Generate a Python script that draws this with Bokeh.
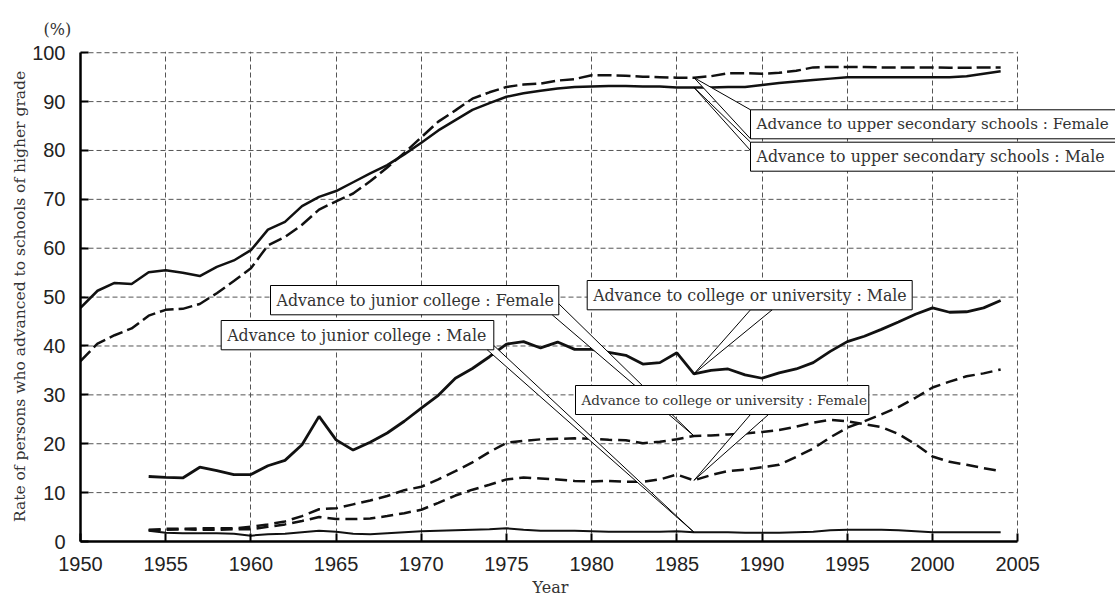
from bokeh.plotting import figure
from bokeh.models import Range1d, FixedTicker, Title
from bokeh.core.properties import value
from bokeh.embed import file_html
from bokeh.resources import INLINE

# ---------------- data ----------------
years_hs = list(range(1950, 2005))
hs_male = [47.8, 51.3, 52.9, 52.7, 55.1, 55.5, 55.0, 54.3, 56.2, 57.5,
           59.6, 63.8, 65.4, 68.6, 70.5, 71.7, 73.5, 75.3, 77.0, 79.2,
           81.6, 84.1, 86.2, 88.3, 89.7, 91.0, 91.7, 92.2, 92.7, 93.0,
           93.1, 93.2, 93.2, 93.1, 93.1, 92.9, 92.9, 92.9, 93.0, 93.0,
           93.4, 93.8, 94.1, 94.4, 94.7, 95.0, 95.0, 95.0, 95.0, 95.0,
           95.0, 95.0, 95.2, 95.7, 96.2]
hs_female = [36.9, 40.5, 42.2, 43.6, 46.2, 47.4, 47.6, 48.6, 50.8, 53.3,
             55.9, 60.6, 62.3, 64.8, 67.9, 69.6, 71.2, 73.7, 76.5, 79.5,
             82.7, 85.9, 88.2, 90.6, 91.9, 93.0, 93.5, 93.7, 94.3, 94.6,
             95.4, 95.4, 95.3, 95.1, 95.0, 94.9, 94.9, 95.2, 95.8, 95.8,
             95.7, 95.9, 96.3, 97.0, 97.1, 97.1, 97.1, 97.0, 97.0, 97.0,
             97.0, 96.9, 96.9, 97.0, 97.0]

years_col = list(range(1954, 2005))
univ_male = [13.3, 13.1, 13.0, 15.2, 14.5, 13.7,
             13.7, 15.5, 16.6, 19.8, 25.6, 20.8, 18.7, 20.3, 22.2, 24.6,
             27.3, 29.9, 33.4, 35.4, 37.8, 40.4, 40.9, 39.6, 40.8, 39.3,
             39.3, 38.7, 38.1, 36.3, 36.6, 38.6, 34.3, 35.0, 35.3, 34.1,
             33.4, 34.5, 35.3, 36.6, 38.9, 40.9, 42.0, 43.4, 44.9, 46.5,
             47.8, 46.9, 47.0, 47.8, 49.3]
univ_female = [2.4, 2.4, 2.5, 2.4, 2.4, 2.5,
               2.5, 3.0, 3.5, 4.2, 5.0, 4.6, 4.6, 4.7, 5.2, 5.8,
               6.5, 7.9, 9.4, 10.6, 11.6, 12.7, 13.1, 12.9, 12.7, 12.4,
               12.3, 12.4, 12.2, 12.2, 12.7, 13.7, 12.5, 13.6, 14.4, 14.7,
               15.2, 15.7, 17.3, 19.0, 21.3, 23.3, 24.6, 26.0, 27.5, 29.4,
               31.5, 32.7, 33.8, 34.4, 35.2]
jc_female = [2.3, 2.6, 2.6, 2.7, 2.7, 2.7,
             3.0, 3.5, 4.1, 5.2, 6.6, 6.8, 7.6, 8.4, 9.3, 10.5,
             11.2, 12.7, 14.4, 16.2, 18.3, 20.2, 20.6, 20.9, 21.0, 21.1,
             21.0, 20.8, 20.7, 20.1, 20.4, 20.9, 21.6, 21.7, 21.9, 22.1,
             22.4, 22.8, 23.5, 24.3, 24.9, 24.6, 24.0, 23.4, 22.0, 19.9,
             17.4, 16.3, 15.7, 15.0, 14.4]
jc_male = [2.2, 1.8, 1.7, 1.7, 1.7, 1.6,
           1.2, 1.5, 1.6, 1.9, 2.2, 2.0, 1.6, 1.5, 1.7, 1.9,
           2.1, 2.2, 2.3, 2.4, 2.5, 2.7, 2.4, 2.2, 2.2, 2.2,
           2.1, 2.0, 2.0, 2.0, 2.0, 2.1, 1.9, 1.9, 1.9, 1.8,
           1.8, 1.8, 1.9, 2.0, 2.3, 2.4, 2.4, 2.4, 2.3, 2.1,
           1.9, 1.9, 1.9, 1.9, 1.9]

x_ticks = list(range(1950, 2006, 5))
y_ticks = list(range(0, 101, 10))
callout_year = 1986

label_hs_f = "Advance to upper secondary schools : Female"
label_hs_m = "Advance to upper secondary schools : Male"
label_un_m = "Advance to college or university : Male"
label_un_f = "Advance to college or university : Female"
label_jc_f = "Advance to junior college : Female"
label_jc_m = "Advance to junior college : Male"
x_title = "Year"
y_title = "Rate of persons who advanced to schools of higher grade"
unit_text = "(%)"

# ---------------- layout ----------------
W, H = 1115, 602
LEFT, TOP, BOTTOM = 80, 51, 61
FRAME_W = W - LEFT
FRAME_H = H - TOP - BOTTOM
PX_YEAR = 17.04
X_END = 1950 + FRAME_W / PX_YEAR
Y_END = 100.25
PX_UNIT = FRAME_H / Y_END


def dx(px):  # page pixel -> year
    return 1950 + (px - LEFT) / PX_YEAR


def dy(py):  # page pixel -> percent
    return (TOP + FRAME_H - py) / PX_UNIT


p = figure(width=W, height=H, output_backend="svg", toolbar_location=None,
           x_range=Range1d(1950, X_END), y_range=Range1d(0, Y_END),
           min_border_left=LEFT, min_border_right=0,
           min_border_top=TOP, min_border_bottom=BOTTOM)
p.outline_line_color = None
p.background_fill_color = "white"
p.border_fill_color = "white"

# "(%)" above the y axis
p.title.text = unit_text
p.title.text_font = "DejaVu Serif"
p.title.text_font_size = "16px"
p.title.text_font_style = "normal"
p.title.text_color = "#333333"
p.title.align = "left"
p.title.offset = -37
p.title.standoff = 26

GRID_C = "#555555"
# grid
p.xgrid.ticker = FixedTicker(ticks=x_ticks)
p.xgrid.grid_line_color = GRID_C
p.xgrid.grid_line_dash = "5 3"
p.xgrid.grid_line_width = 1
p.ygrid.visible = False
hy = y_ticks[1:]
p.segment(x0=[x_ticks[0]] * len(hy), x1=[x_ticks[-1]] * len(hy), y0=hy, y1=hy,
          line_color=GRID_C, line_dash="5 3", line_width=1)

# axes
for ax in (p.xaxis, p.yaxis):
    ax.axis_line_color = "black"
    ax.axis_line_width = 2.5
    ax.major_tick_in = 8
    ax.major_tick_out = 0
    ax.minor_tick_in = 0
    ax.minor_tick_out = 0
    ax.major_tick_line_width = 2
    ax.major_tick_line_color = "black"
    ax.major_label_text_font = "Liberation Sans"
    ax.major_label_text_font_size = "20px"
    ax.major_label_text_color = "#222222"
    ax.major_label_standoff = 15
    ax.axis_label_text_font = "DejaVu Serif"
    ax.axis_label_text_font_size = "15.5px"
    ax.axis_label_text_font_style = "normal"
    ax.axis_label_text_color = "#333333"
p.xaxis.ticker = FixedTicker(ticks=x_ticks)
p.yaxis.ticker = FixedTicker(ticks=y_ticks)
p.xaxis.bounds = (x_ticks[0], x_ticks[-1])
p.yaxis.bounds = (y_ticks[0], y_ticks[-1])
p.yaxis.axis_label = y_title
p.yaxis.axis_label_standoff = 0

# "Year" centred under the 1950-2005 span
p.add_layout(Title(text=x_title, text_font="DejaVu Serif", text_font_size="16px",
                   text_font_style="normal", text_color="#333333",
                   align="left", offset=452, standoff=4), "below")

# lines
LC = "#111111"
p.line(years_hs, hs_male, line_color=LC, line_width=2.5)
p.line(years_hs, hs_female, line_color=LC, line_width=2.5, line_dash="14 5")
p.line(years_col, univ_male, line_color=LC, line_width=2.8)
p.line(years_col, univ_female, line_color=LC, line_width=2.5, line_dash="12 6")
p.line(years_col, jc_female, line_color=LC, line_width=2.5, line_dash="12 6")
p.line(years_col, jc_male, line_color=LC, line_width=2)

ih = years_hs.index(callout_year)
ic = years_col.index(callout_year)

callouts = [
    (label_hs_f, (750, 109.3, 1160, 138.3), [(750, 109.3), (750, 138.3)], hs_female[ih], 15.2),
    (label_hs_m, (750, 141.7, 1160, 170.7), [(750, 141.7), (750, 150.0)], hs_male[ih], 15.8),
    (label_un_m, (586.7, 280, 911.7, 309.3), [(750, 309.3), (771.7, 309.3)], univ_male[ic], 15.8),
    (label_jc_f, (270, 285, 558.3, 314.3), [(558.3, 303.3), (551.7, 314.3)], jc_female[ic], 15.8),
    (label_jc_m, (220.7, 320, 493.3, 349.3), [(486.7, 349.3), (493.3, 345.0)], jc_male[ic], 15.8),
    (label_un_f, (575, 385, 868.3, 414), [(750, 414), (768, 414)], univ_female[ic], 13.6),
]

# wedges
wx, wy = [], []
for text, box, base, tip_val, fs in callouts:
    wx.append([callout_year, dx(base[0][0]), dx(base[1][0])])
    wy.append([tip_val, dy(base[0][1]), dy(base[1][1])])
p.patches(wx, wy, fill_color="white", line_color="black", line_width=1)

# boxes
p.quad(left=[dx(c[1][0]) for c in callouts], right=[dx(c[1][2]) for c in callouts],
       top=[dy(c[1][1]) for c in callouts], bottom=[dy(c[1][3]) for c in callouts],
       fill_color="white", line_color="black", line_width=1)

# texts
for text, box, base, tip_val, fs in callouts:
    p.text(x=[dx(box[0] + 6)], y=[dy((box[1] + box[3]) / 2)], text=[text],
           text_font=value("DejaVu Serif"), text_font_size=f"{fs}px",
           text_color="#333333", text_align="left", text_baseline="middle")

open("out.html", "w").write(file_html(p, INLINE))
